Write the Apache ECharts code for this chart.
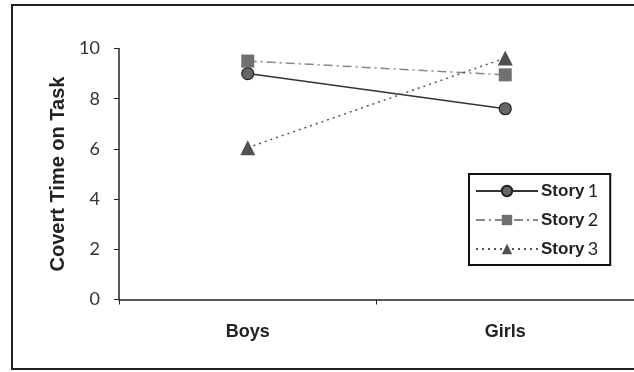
<!DOCTYPE html>
<html>
<head>
<meta charset="utf-8">
<script src="https://cdn.jsdelivr.net/npm/echarts@6/dist/echarts.min.js"></script>
<style>html,body{margin:0;padding:0;background:#fff}#c{width:634px;height:372px}</style>
</head>
<body>
<div id="c"></div>
<script>
const categories = ['Boys', 'Girls'];
const story1 = [9.0, 7.6];
const story2 = [9.5, 8.95];
const story3 = [6.05, 9.62];
const seriesNames = ['Story 1', 'Story 2', 'Story 3'];

const chart = echarts.init(document.getElementById('c'));
const numFont = 'Lato';
chart.setOption({
  animation: false,
  graphic: [{
    type: 'rect',
    shape: { x: 12, y: 5, width: 640, height: 364 },
    style: { fill: 'none', stroke: '#222', lineWidth: 2 }, silent: true, z: 0
  }],
  grid: { left: 119, top: 48.5, bottom: 72.5, right: -3 },
  legend: {
    orient: 'vertical', left: 469, top: 174,
    itemWidth: 62, itemHeight: 13, itemGap: 11,
    padding: [8, 12, 7, 6],
    borderColor: '#111', borderWidth: 2,
    data: seriesNames,
    formatter: function (n) { const p = n.split(' '); return '{b|' + p[0] + '} {n|' + p[1] + '}'; },
    textStyle: {
      padding: [0, 0, 0, -2],
      rich: {
        b: { fontFamily: 'Liberation Sans', fontWeight: 'bold', fontSize: 17, color: '#222' },
        n: { fontFamily: numFont, fontSize: 18, color: '#222' }
      }
    }
  },
  xAxis: {
    type: 'category', data: categories, boundaryGap: true,
    axisLine: { lineStyle: { color: '#222', width: 1.5 } },
    axisTick: { show: true, length: 5, lineStyle: { color: '#222' } },
    axisLabel: { margin: 24, fontFamily: 'Liberation Sans', fontWeight: 'bold', fontSize: 18, color: '#222' }
  },
  yAxis: {
    type: 'value', min: 0, max: 10, interval: 2,
    name: 'Covert Time on Task', nameLocation: 'middle', nameGap: 50,
    nameTextStyle: { fontFamily: 'Liberation Sans', fontWeight: 'bold', fontSize: 20, color: '#222' },
    axisLine: { show: true, lineStyle: { color: '#222', width: 1.5 } },
    axisTick: { show: true, length: 5, lineStyle: { color: '#222' } },
    splitLine: { show: false },
    axisLabel: { margin: 19, fontFamily: numFont, fontSize: 18, color: '#333' }
  },
  series: [
    {
      name: seriesNames[0], type: 'line', data: story1,
      symbol: 'circle', symbolSize: 12,
      lineStyle: { color: '#333', width: 1.5, type: 'solid' },
      itemStyle: { color: '#666', borderColor: '#222', borderWidth: 1.2 }
    },
    {
      name: seriesNames[1], type: 'line', data: story2,
      symbol: 'rect', symbolSize: 13,
      lineStyle: { color: '#888', width: 1.5, type: [9, 4, 2, 4] },
      itemStyle: { color: '#707070', borderColor: '#707070', borderWidth: 0 }
    },
    {
      name: seriesNames[2], type: 'line', data: story3,
      symbol: 'triangle', symbolSize: 15,
      lineStyle: { color: '#555', width: 1.5, type: [2, 4] },
      itemStyle: { color: '#505050', borderColor: '#505050', borderWidth: 0 }
    }
  ]
});
</script>
</body>
</html>
